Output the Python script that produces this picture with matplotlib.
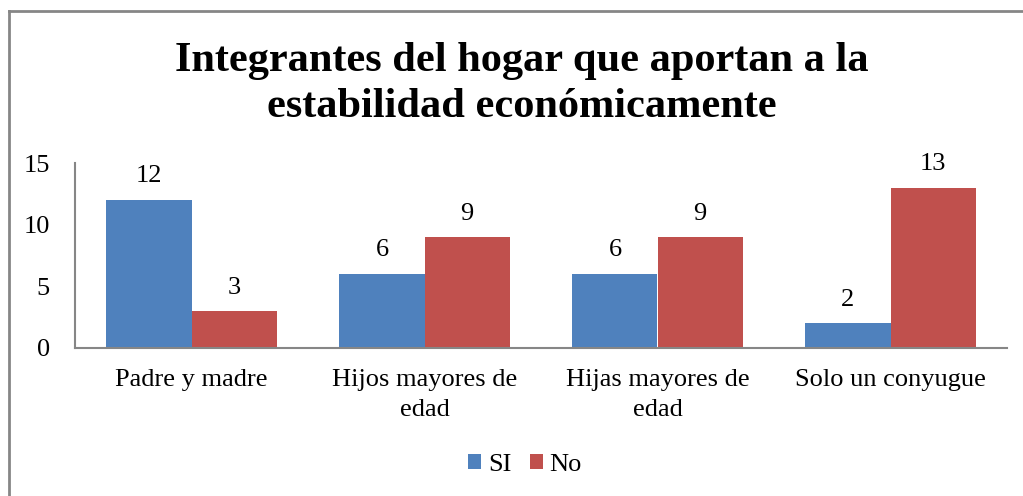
import matplotlib.pyplot as plt
from matplotlib.lines import Line2D
import numpy as np

plt.rcParams.update({
    'font.family': ['Liberation Serif', 'DejaVu Serif'],
    'font.size': 19,
})

categories = ['Padre y madre', 'Hijos mayores de\nedad', 'Hijas mayores de\nedad', 'Solo un conyugue']
si_values = [12, 6, 6, 2]
no_values = [3, 9, 9, 13]
series_names = ['SI', 'No']
title = 'Integrantes del hogar que aportan a la\nestabilidad económicamente'

blue = '#4F81BD'
red = '#C0504D'
axis_gray = '#868686'

fig = plt.figure(figsize=(10.23, 4.96), dpi=100)
ax = fig.add_axes([75 / 1023, 148 / 496, 932 / 1023, 185 / 496])

x = np.arange(len(categories))
w = 0.365
b1 = ax.bar(x - w / 2, si_values, w, color=blue, label=series_names[0])
b2 = ax.bar(x + w / 2, no_values, w, color=red, label=series_names[1])
ax.bar_label(b1, padding=9, fontsize=19)
ax.bar_label(b2, padding=9, fontsize=19)

ax.set_xlim(-0.5, len(categories) - 0.5)
ax.set_ylim(0, 15)
ax.set_yticks([0, 5, 10, 15])
ax.set_xticks(x)
ax.set_xticklabels(categories, linespacing=1.5)
ax.tick_params(axis='y', length=0, pad=18)
ax.tick_params(axis='x', length=0, pad=15)
for s in ['top', 'right']:
    ax.spines[s].set_visible(False)
for s in ['left', 'bottom']:
    ax.spines[s].set_color(axis_gray)
    ax.spines[s].set_linewidth(1.5)

fig.text(522 / 1023, 1 - 84 / 496, title, ha='center', va='center',
         fontsize=30.5, fontweight='bold', linespacing=1.25)

fig.legend(loc='center', bbox_to_anchor=(525 / 1023, 1 - 465 / 496), ncol=2,
           frameon=False, handlelength=0.5, handleheight=0.5, handletextpad=0.25,
           columnspacing=0.7, fontsize=19)

# chart area border (left and top only visible)
fig.add_artist(Line2D([8.5 / 1023, 8.5 / 1023], [0, 1 - 11 / 496], transform=fig.transFigure,
                      color=axis_gray, lw=2))
fig.add_artist(Line2D([8.5 / 1023, 1], [1 - 11 / 496, 1 - 11 / 496], transform=fig.transFigure,
                      color=axis_gray, lw=2))

fig.savefig('out.png', dpi=100)
